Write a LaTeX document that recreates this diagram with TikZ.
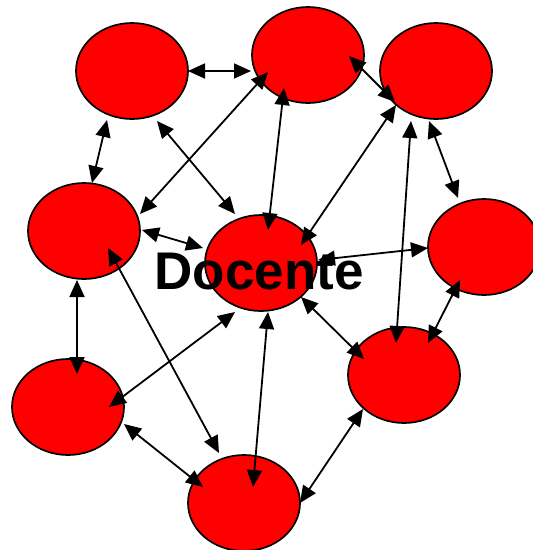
\documentclass[tikz,border=0pt]{standalone}
\usepackage{fontspec}
\setmainfont{Liberation Sans}
\usetikzlibrary{shapes.geometric,arrows.meta,calc}
\begin{document}
\begin{tikzpicture}[x=1pt,y=-1pt,
  blob/.style={ellipse,draw=black,line width=1.7pt,fill=red,
    minimum width=112pt,minimum height=96pt,inner sep=0pt},
  link/.style={line width=1.8pt,{Triangle[length=17pt,width=15pt]}-{Triangle[length=17pt,width=15pt]}},
  title/.style={font=\bfseries\fontsize{53}{53}\selectfont,inner sep=0pt,anchor=base}]
\useasboundingbox (0,0) rectangle (533,550);

% circles of the network
\node[blob] (A) at (132,71) {};
\node[blob] (B) at (308,55) {};
\node[blob] (C) at (436,71) {};
\node[blob] (D) at (84,231) {};
\node[blob] (E) at (261,263) {};
\node[blob] (F) at (484,247) {};
\node[blob] (G) at (404,375) {};
\node[blob] (H) at (68,407) {};
\node[blob] (I) at (244,503) {};

% two-way links
\draw[link] ($(A)+(56,0)$) -- ($(B)+(-57,16)$);
\draw[link] ($(A)+(-25,49)$) -- ($(D)+(8,-48)$);
\draw[link] ($(A)+(25,50)$) -- ($(E)+(-26,-49)$);
\draw[link] ($(D)+(56,-17)$) -- ($(B)+(-40,17)$);
\draw[link] ($(E)+(7,-33)$) -- ($(B)+(-24,33)$);
\draw[link] ($(B)+(41,1)$) -- ($(C)+(-41,31)$);
\draw[link] ($(E)+(40,-18)$) -- ($(C)+(-40,34)$);
\draw[link] ($(G)+(-8,-32)$) -- ($(C)+(-25,50)$);
\draw[link] ($(C)+(-7,50)$) -- ($(F)+(-26,-49)$);
\draw[link] ($(D)+(58,-1)$) -- ($(E)+(-58,-15)$);
\draw[link] ($(E)+(57,-3)$) -- ($(F)+(-56,1)$);
\draw[link] ($(F)+(-24,33)$) -- ($(G)+(24,-32)$);
\draw[link] ($(E)+(40,34)$) -- ($(G)+(-40,-16)$);
\draw[link] ($(D)+(-7,49)$) -- ($(H)+(9,-33)$);
\draw[link] ($(D)+(24,17)$) -- ($(I)+(-25,-50)$);
\draw[link] ($(H)+(41,0)$) -- ($(E)+(-26,49)$);
\draw[link] ($(E)+(7,49)$) -- ($(I)+(9,-16)$);
\draw[link] ($(H)+(56,17)$) -- ($(I)+(-41,-16)$);
\draw[link] ($(I)+(56,0)$) -- ($(G)+(-41,34)$);

% label of the central circle
\node[title] (docente) at (259,289) {Docente};
\end{tikzpicture}
\end{document}
